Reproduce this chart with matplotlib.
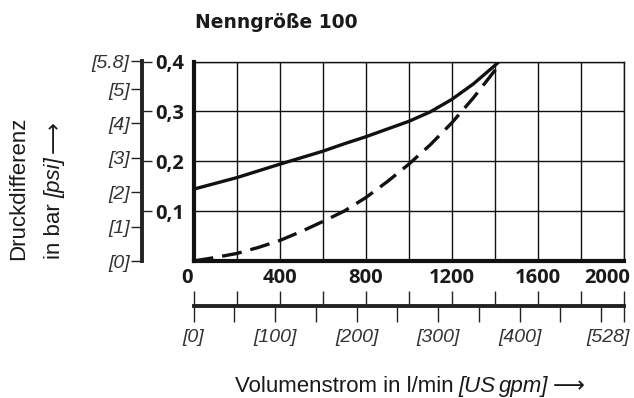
import numpy as np
import matplotlib
matplotlib.use('Agg')
import matplotlib.pyplot as plt
import matplotlib.transforms as mtransforms

# curve data (flow l/min, pressure drop bar)
flow_solid = [0, 200, 400, 600, 700, 800, 1000, 1100, 1200, 1300, 1400, 1420]
dp_solid = [0.144, 0.167, 0.194, 0.220, 0.235, 0.249, 0.280, 0.299, 0.324, 0.355, 0.392, 0.400]
flow_dash = [0, 100, 200, 300, 400, 500, 600, 700, 800, 900, 1000, 1100, 1200, 1300, 1400, 1425]
dp_dash = [0.0, 0.007, 0.015, 0.027, 0.041, 0.059, 0.079, 0.100, 0.127, 0.159, 0.194, 0.233, 0.277, 0.327, 0.382, 0.400]

bar_ticks = [0.1, 0.2, 0.3, 0.4]
bar_labels = ['0,1', '0,2', '0,3', '0,4']
psi_ticks = [0, 1, 2, 3, 4, 5, 5.8]
psi_labels = ['[0]', '[1]', '[2]', '[3]', '[4]', '[5]', '[5.8]']
flow_labels = ['0', '', '400', '', '800', '', '1200', '', '1600', '', '2000']
gpm_ticks = [0, 50, 100, 150, 200, 250, 300, 350, 400, 450, 500, 528]
gpm_labels = ['[0]', '', '[100]', '', '[200]', '', '[300]', '', '[400]', '', '', '[528]']

W, H = 634, 398
fig = plt.figure(figsize=(W / 100, H / 100), dpi=100)
renderer = fig.canvas.get_renderer()

def box(x0, y0, x1, y1):
    return [x0 / W, 1 - y1 / H, (x1 - x0) / W, (y1 - y0) / H]

tick_font = 'Open Sans'
ital_font = 'Liberation Sans'
ital_col = '#333333'
ink = '#1a1a1a'
fam = ['Liberation Sans', 'DejaVu Sans']

# main plot
ax = fig.add_axes(box(193.5, 61.5, 624, 261))
ax.set_xlim(0, 2000)
ax.set_ylim(0, 0.4)
ax.plot(flow_solid, dp_solid, color='#111111', lw=2.4, solid_capstyle='butt', zorder=3)
ax.plot(flow_dash, dp_dash, color='#111111', lw=2.4, dashes=(6.0, 2.7), zorder=3)
ax.set_xticks(np.arange(0, 2001, 200))
ax.set_xticklabels(flow_labels, fontfamily=tick_font, fontweight='bold', fontsize=14.5, color=ink)
ax.set_yticks(np.arange(0, 0.41, 0.1))
ax.set_yticklabels([])
ax.tick_params(axis='both', length=0, pad=5)
ax.grid(True, color='#111111', lw=1.0)
for s in ['top', 'right']:
    ax.spines[s].set_linewidth(1.0)
for s in ['left', 'bottom']:
    ax.spines[s].set_linewidth(3.0)
for s in ax.spines.values():
    s.set_color('#111111')
    s.set_zorder(4)
shift_r = mtransforms.ScaledTranslation(6 / 100, 0, fig.dpi_scale_trans)
shift_l = mtransforms.ScaledTranslation(-7 / 100, 0, fig.dpi_scale_trans)
lab_end = ax.get_xticklabels()[-1]
lab_end.set_ha('right')
lab_end.set_transform(lab_end.get_transform() + shift_r)
lab_0 = ax.get_xticklabels()[0]
lab_0.set_transform(lab_0.get_transform() + shift_l)

# psi / bar scale on the left
ax_psi = fig.add_axes(box(142, 61.5, 142.2, 261))
ax_psi.set_ylim(0, 5.8)
ax_psi.set_xticks([])
for s in ['top', 'bottom', 'right']:
    ax_psi.spines[s].set_visible(False)
ax_psi.spines['left'].set_linewidth(2.8)
ax_psi.spines['left'].set_color('#222222')
ax_psi.set_yticks(psi_ticks)
ax_psi.set_yticklabels(psi_labels, fontfamily=ital_font, fontstyle='italic',
                       fontsize=14, color=ital_col)
ax_psi.tick_params(axis='y', length=8, width=1.0, color='#222222', pad=1)

ax_bar = ax_psi.twinx()
ax_bar.set_ylim(0, 0.4)
for s in ['top', 'bottom', 'left', 'right']:
    ax_bar.spines[s].set_visible(False)
ax_bar.set_yticks(bar_ticks)
ax_bar.set_yticklabels(bar_labels, fontfamily=tick_font, fontweight='bold', fontsize=14.5, color=ink)
ax_bar.tick_params(axis='y', length=7.5, width=1.0, color='#222222', pad=2)

# US gpm scale at the bottom
ax_g = fig.add_axes(box(193.5, 306, 624, 306.2))
ax_g.set_xlim(0, 2000)
ax_g.set_yticks([])
for s in ['top', 'left', 'right']:
    ax_g.spines[s].set_visible(False)
ax_g.spines['bottom'].set_linewidth(2.8)
ax_g.spines['bottom'].set_color('#222222')
ax_g.set_xticks(np.arange(0, 2001, 200))
ax_g.set_xticklabels([])
ax_g.tick_params(axis='x', direction='in', length=11, width=1.0, color='#222222')

ax_gpm = ax_g.twiny()
ax_gpm.set_xlim(0, 528)
for s in ['top', 'bottom', 'left', 'right']:
    ax_gpm.spines[s].set_visible(False)
ax_gpm.xaxis.set_ticks_position('bottom')
ax_gpm.xaxis.set_label_position('bottom')
ax_gpm.set_xticks(gpm_ticks)
ax_gpm.set_xticklabels(gpm_labels, fontfamily=ital_font, fontstyle='italic', fontsize=14, color=ital_col)
ax_gpm.tick_params(axis='x', direction='out', length=11.5, width=1.0, color='#222222', pad=5)
lab_528 = ax_gpm.get_xticklabels()[-1]
lab_528.set_ha('right')
lab_528.set_transform(lab_528.get_transform() + shift_r)


# text made of pieces with mixed upright / italic style, start point in pixels
def draw_parts(x, y, parts, size, vertical=False):
    pos = 0
    for s, style, gap in parts:
        pos += gap
        px, py = (x, y - pos) if vertical else (x + pos, y)
        t = fig.text(px / W, 1 - py / H, s, fontsize=size, fontstyle=style, fontfamily=fam,
                     color=ink, rotation=90 if vertical else 0, rotation_mode='anchor',
                     ha='left', va='baseline')
        bb = t.get_window_extent(renderer)
        pos += bb.height if vertical else bb.width


fig.text(195 / W, 1 - 22 / H, 'Nenngröße 100', fontfamily='DejaVu Sans',
         fontweight='bold', fontsize=13.5, color=ink, va='center', ha='left')
draw_parts(24, 260, [('Druckdifferenz', 'normal', 0)], 16, vertical=True)
draw_parts(60, 259, [('in bar', 'normal', 0), ('[psi]', 'italic', 5),
                     ('\u27f6', 'normal', 5)], 16, vertical=True)
draw_parts(235, 392, [('Volumenstrom in l/min', 'normal', 0), ('[US', 'italic', 5),
                      ('gpm]', 'italic', 3), ('\u27f6', 'normal', 5)], 16)

fig.savefig('out.png', dpi=100)
